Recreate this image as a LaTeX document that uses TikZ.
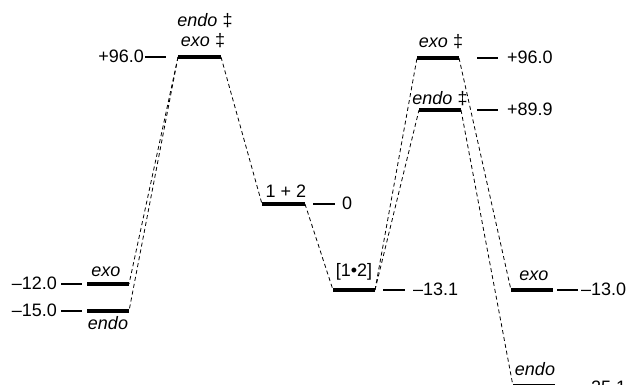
\documentclass[tikz,border=0pt]{standalone}
\usepackage{fontspec}
\setmainfont{Liberation Sans}
\begin{document}
\begin{tikzpicture}[x=1pt,y=-1pt,
  level/.style={line width=3.4pt},
  conn/.style={line width=0.8pt, dash pattern=on 4pt off 3pt},
  tick/.style={line width=1.7pt},
  lab/.style={inner sep=0pt, font=\fontsize{18}{21}\selectfont}]
\useasboundingbox (0,0) rectangle (633,385);
\clip (0,0) rectangle (633,385);
% level end points
\coordinate (tsL1) at (178,57);  \coordinate (tsL2) at (221,57);
\coordinate (exoL1) at (87,284); \coordinate (exoL2) at (129,284);
\coordinate (endoL1) at (87,311); \coordinate (endoL2) at (129,311);
\coordinate (r1) at (262,204);   \coordinate (r2) at (305,204);
\coordinate (c1) at (333,290);   \coordinate (c2) at (375,290);
\coordinate (tsX1) at (417,58);  \coordinate (tsX2) at (459,58);
\coordinate (tsN1) at (419,110); \coordinate (tsN2) at (461,110);
\coordinate (exoR1) at (511,290); \coordinate (exoR2) at (553,290);
\coordinate (endoR1) at (513,386); \coordinate (endoR2) at (555,386);
% tick end points
\coordinate (k1a) at (145,57);  \coordinate (k1b) at (166,57);
\coordinate (k2a) at (61,284);  \coordinate (k2b) at (82,284);
\coordinate (k3a) at (61,311);  \coordinate (k3b) at (82,311);
\coordinate (k4a) at (313,204); \coordinate (k4b) at (335,204);
\coordinate (k5a) at (383,290); \coordinate (k5b) at (405,290);
\coordinate (k6a) at (477,58);  \coordinate (k6b) at (498,58);
\coordinate (k7a) at (477,110); \coordinate (k7b) at (498,110);
\coordinate (k8a) at (557,290); \coordinate (k8b) at (578,290);
\coordinate (k9a) at (557,388); \coordinate (k9b) at (578,388);
% levels
\foreach \a/\b in {tsL1/tsL2,exoL1/exoL2,endoL1/endoL2,r1/r2,c1/c2,tsX1/tsX2,tsN1/tsN2,exoR1/exoR2,endoR1/endoR2}
  \draw[level] (\a) -- (\b);
% ticks
\foreach \i in {1,...,9}
  \draw[tick] (k\i a) -- (k\i b);
% connectors
\draw[conn] (tsL1) -- (exoL2);
\draw[conn] (tsL1) -- (endoL2);
\draw[conn] (tsL2) -- (r1);
\draw[conn] (r2) -- (c1);
\draw[conn] (c2) -- (tsX1);
\draw[conn] (c2) -- (tsN1);
\draw[conn] (tsX2) -- (exoR1);
\draw[conn] (tsN2) -- (endoR1);
% value labels
\node[lab, anchor=base east] (v1) at (144,63) {+96.0};
\node[lab, anchor=base east] (v2) at (57,290) {–12.0};
\node[lab, anchor=base east] (v3) at (57,317) {–15.0};
\node[lab, anchor=base west] (v4) at (342,210) {0};
\node[lab, anchor=base west] (v5) at (413,296) {–13.1};
\node[lab, anchor=base west] (v6) at (507,64) {+96.0};
\node[lab, anchor=base west] (v7) at (507,116) {+89.9};
\node[lab, anchor=base west] (v8) at (581,296) {–13.0};
\node[lab, anchor=base west] (v9) at (581,393) {–25.1};
% species labels
\node[lab, anchor=base] (n1) at (205,27) {\itshape endo\upshape\ ‡};
\node[lab, anchor=base] (n2) at (203,47) {\itshape exo\upshape\ ‡};
\node[lab, anchor=base] (n3) at (106,277) {\itshape exo};
\node[lab, anchor=base] (n4) at (108,330) {\itshape endo};
\node[lab, anchor=base] (n5) at (286,198) {1 + 2};
\node[lab, anchor=base] (n6) at (354,277) {[1•2]};
\node[lab, anchor=base] (n7) at (441,48) {\itshape exo\upshape\ ‡};
\node[lab, anchor=base] (n8) at (440,105) {\itshape endo\upshape\ ‡};
\node[lab, anchor=base] (n9) at (534,281) {\itshape exo};
\node[lab, anchor=base] (n10) at (535,376) {\itshape endo};
\end{tikzpicture}
\end{document}
